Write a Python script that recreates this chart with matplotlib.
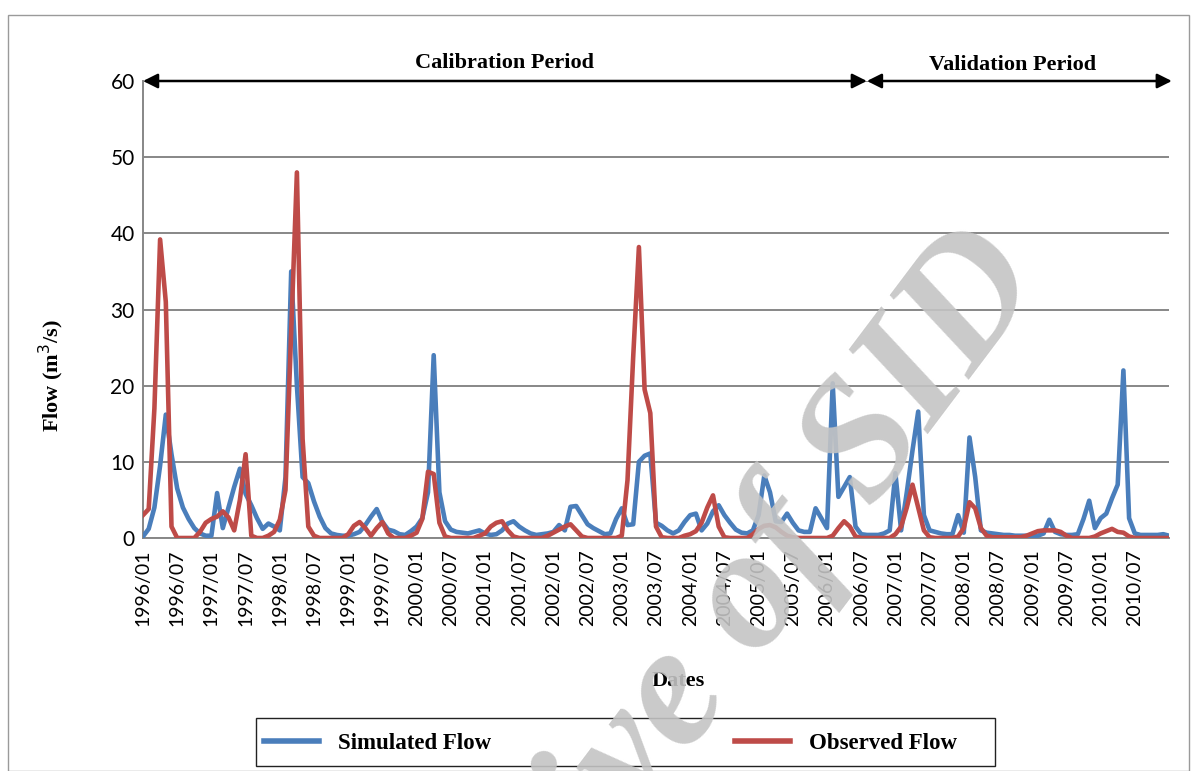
import pandas as pd
import matplotlib
matplotlib.use("Agg")
import matplotlib.pyplot as plt
from matplotlib.lines import Line2D
from matplotlib.patches import Rectangle

# monthly series 1996/01 .. 2011/01
months = pd.date_range("1996-01-01", periods=181, freq="MS").strftime("%Y/%m").tolist()
tick_labels = months[:180:6]

simulated = [
    0.2, 1.2, 4.0, 9.5, 16.2, 11.0, 6.5, 4.0, 2.5, 1.3, 0.6, 0.3,
    0.3, 5.9, 1.3, 4.0, 6.7, 9.1, 5.8, 4.3, 2.6, 1.2, 1.9, 1.5,
    1.0, 8.0, 35.0, 20.0, 8.0, 7.2, 4.8, 2.8, 1.3, 0.6, 0.4, 0.3,
    0.3, 0.5, 0.8, 1.7, 2.8, 3.8, 2.1, 1.1, 0.9, 0.5, 0.4, 0.9,
    1.5, 2.6, 6.0, 24.0, 6.0, 2.2, 1.1, 0.8, 0.7, 0.6, 0.8, 1.0,
    0.6, 0.4, 0.5, 1.0, 1.9, 2.2, 1.5, 1.0, 0.6, 0.4, 0.5, 0.6,
    0.8, 1.7, 1.0, 4.1, 4.2, 3.0, 1.8, 1.3, 0.9, 0.5, 0.6, 2.5,
    3.9, 1.7, 1.8, 10.0, 10.8, 11.1, 2.0, 1.6, 1.0, 0.6, 1.0, 2.1,
    3.0, 3.2, 1.0, 1.9, 3.5, 4.3, 3.0, 2.0, 1.1, 0.7, 0.6, 1.0,
    3.0, 8.2, 6.0, 2.2, 2.1, 3.2, 2.0, 1.0, 0.8, 0.8, 3.9, 2.6,
    1.3, 20.3, 5.4, 6.7, 8.0, 1.5, 0.5, 0.4, 0.4, 0.4, 0.6, 1.0,
    8.5, 1.0, 6.0, 11.5, 16.6, 3.0, 1.0, 0.8, 0.6, 0.5, 0.5, 3.0,
    0.7, 13.2, 8.0, 1.0, 0.7, 0.6, 0.5, 0.4, 0.4, 0.3, 0.3, 0.3,
    0.3, 0.3, 0.6, 2.4, 0.8, 0.5, 0.4, 0.4, 0.5, 2.5, 4.9, 1.3,
    2.6, 3.2, 5.2, 7.0, 22.0, 2.6, 0.6, 0.4, 0.4, 0.4, 0.4, 0.5,
    0.3,
]

observed = [
    3.0, 3.8, 17.0, 39.2, 31.0, 1.5, 0.0, 0.0, 0.0, 0.0, 0.8, 2.0,
    2.5, 2.8, 3.5, 2.7, 1.0, 5.0, 11.0, 0.3, 0.0, 0.0, 0.3, 0.8,
    2.4, 6.3, 27.0, 48.0, 13.0, 1.5, 0.3, 0.0, 0.0, 0.0, 0.0, 0.0,
    0.5, 1.6, 2.1, 1.3, 0.3, 1.3, 2.1, 0.6, 0.0, 0.0, 0.0, 0.3,
    0.7, 2.5, 8.7, 8.4, 2.0, 0.2, 0.0, 0.0, 0.0, 0.0, 0.0, 0.3,
    0.6, 1.5, 2.0, 2.2, 1.0, 0.2, 0.0, 0.0, 0.0, 0.0, 0.0, 0.3,
    0.7, 1.1, 1.5, 1.8, 1.0, 0.2, 0.0, 0.0, 0.0, 0.0, 0.0, 0.0,
    0.3, 7.6, 23.8, 38.2, 19.5, 16.4, 1.5, 0.1, 0.0, 0.0, 0.0, 0.3,
    0.5, 0.9, 2.0, 4.0, 5.6, 1.5, 0.1, 0.0, 0.0, 0.0, 0.0, 0.5,
    1.2, 1.6, 1.7, 1.4, 0.8, 0.3, 0.1, 0.0, 0.0, 0.0, 0.0, 0.0,
    0.0, 0.3, 1.3, 2.2, 1.5, 0.2, 0.0, 0.0, 0.0, 0.0, 0.0, 0.0,
    0.5, 1.5, 4.0, 7.0, 4.0, 1.0, 0.1, 0.0, 0.0, 0.0, 0.0, 0.2,
    1.3, 4.7, 3.9, 1.3, 0.3, 0.1, 0.1, 0.1, 0.1, 0.1, 0.1, 0.3,
    0.6, 0.9, 1.0, 1.0, 1.0, 0.8, 0.3, 0.0, 0.0, 0.0, 0.0, 0.2,
    0.6, 0.9, 1.2, 0.8, 0.7, 0.2, 0.0, 0.0, 0.0, 0.0, 0.0, 0.0,
    0.0,
]

split_idx = 127  # calibration / validation boundary

serif = "Liberation Serif"
sans = "Lato"
blue = "#4a7ebb"
red = "#be4b48"
grid_c = "#878787"

W, H = 1197, 771
fig = plt.figure(figsize=(W / 100, H / 100), dpi=100)
ax = fig.add_axes([143 / W, 1 - 538 / H, (1169 - 143) / W, (538 - 81) / H])

x = list(range(len(months)))
ax.plot(x, simulated, color=blue, lw=3.3, solid_joinstyle="round", zorder=3)
ax.plot(x, observed, color=red, lw=3.3, solid_joinstyle="round", zorder=4)

ax.set_xlim(0, len(months) - 1)
ax.set_ylim(0, 60)
ax.set_yticks(range(0, 61, 10))
ax.set_xticks(x[:180:6])
ax.set_xticklabels(tick_labels, rotation=90, fontsize=14, family=sans)
ax.tick_params(axis="y", labelsize=15, length=0, pad=6)
ax.tick_params(axis="x", length=0, pad=8)
for lab in ax.get_yticklabels():
    lab.set_family(sans)

ax.yaxis.grid(True, color=grid_c, lw=1.4)
ax.set_axisbelow(True)
for s in ["top", "right"]:
    ax.spines[s].set_visible(False)
for s in ["left", "bottom"]:
    ax.spines[s].set_color(grid_c)
    ax.spines[s].set_linewidth(1.4)

ax.set_ylabel("Flow (m$^3$/s)", family=serif, weight="bold", fontsize=16)
ax.yaxis.set_label_coords(-0.075, 0.354)
ax.set_xlabel("Dates", family=serif, weight="bold", fontsize=16)
ax.xaxis.set_label_coords(0.522, -0.29)

# period arrows
arrow_kw = dict(arrowstyle="<|-|>", color="black", lw=1.8, mutation_scale=22,
                shrinkA=0, shrinkB=0)
ax.annotate("", xy=(0, 60), xytext=(split_idx, 60), arrowprops=arrow_kw,
            annotation_clip=False, zorder=6)
ax.annotate("", xy=(split_idx, 60), xytext=(180.5, 60), arrowprops=arrow_kw,
            annotation_clip=False, zorder=6)
ax.text(63.5, 62.4, "Calibration Period", family=serif, weight="bold", fontsize=16,
        ha="center", va="center")
ax.text(152.5, 62.1, "Validation Period", family=serif, weight="bold", fontsize=16,
        ha="center", va="center")

# legend
handles = [Line2D([], [], color=blue, lw=4), Line2D([], [], color=red, lw=4)]
fig.legend(handles, ["Simulated Flow", "Observed Flow"], loc="center left",
           bbox_to_anchor=(264 / W, 1 - 743 / H), ncol=2, frameon=False,
           borderpad=0, borderaxespad=0, handlelength=2.4, handletextpad=0.85,
           columnspacing=10.6, prop={"family": serif, "weight": "bold", "size": 16.5})
fig.patches.append(Rectangle((256 / W, 1 - 766 / H), (995 - 256) / W, 48 / H,
                             transform=fig.transFigure, fill=False,
                             edgecolor="#222222", lw=1.0))

# outer frame
fig.patches.append(Rectangle((8 / W, 0), 1 - 16 / W, 1 - 15 / H, transform=fig.transFigure,
                             fill=False, edgecolor="#9a9a9a", lw=1.0))

# watermark
fig.text(1050 / W, 1 - 285 / H, "Archive of SID", rotation=53, rotation_mode="anchor",
         ha="right", va="baseline", fontsize=125, family=serif, weight="bold",
         style="italic", color="#c4c4c4", alpha=0.9, zorder=10)

fig.savefig("out.png", dpi=100)
